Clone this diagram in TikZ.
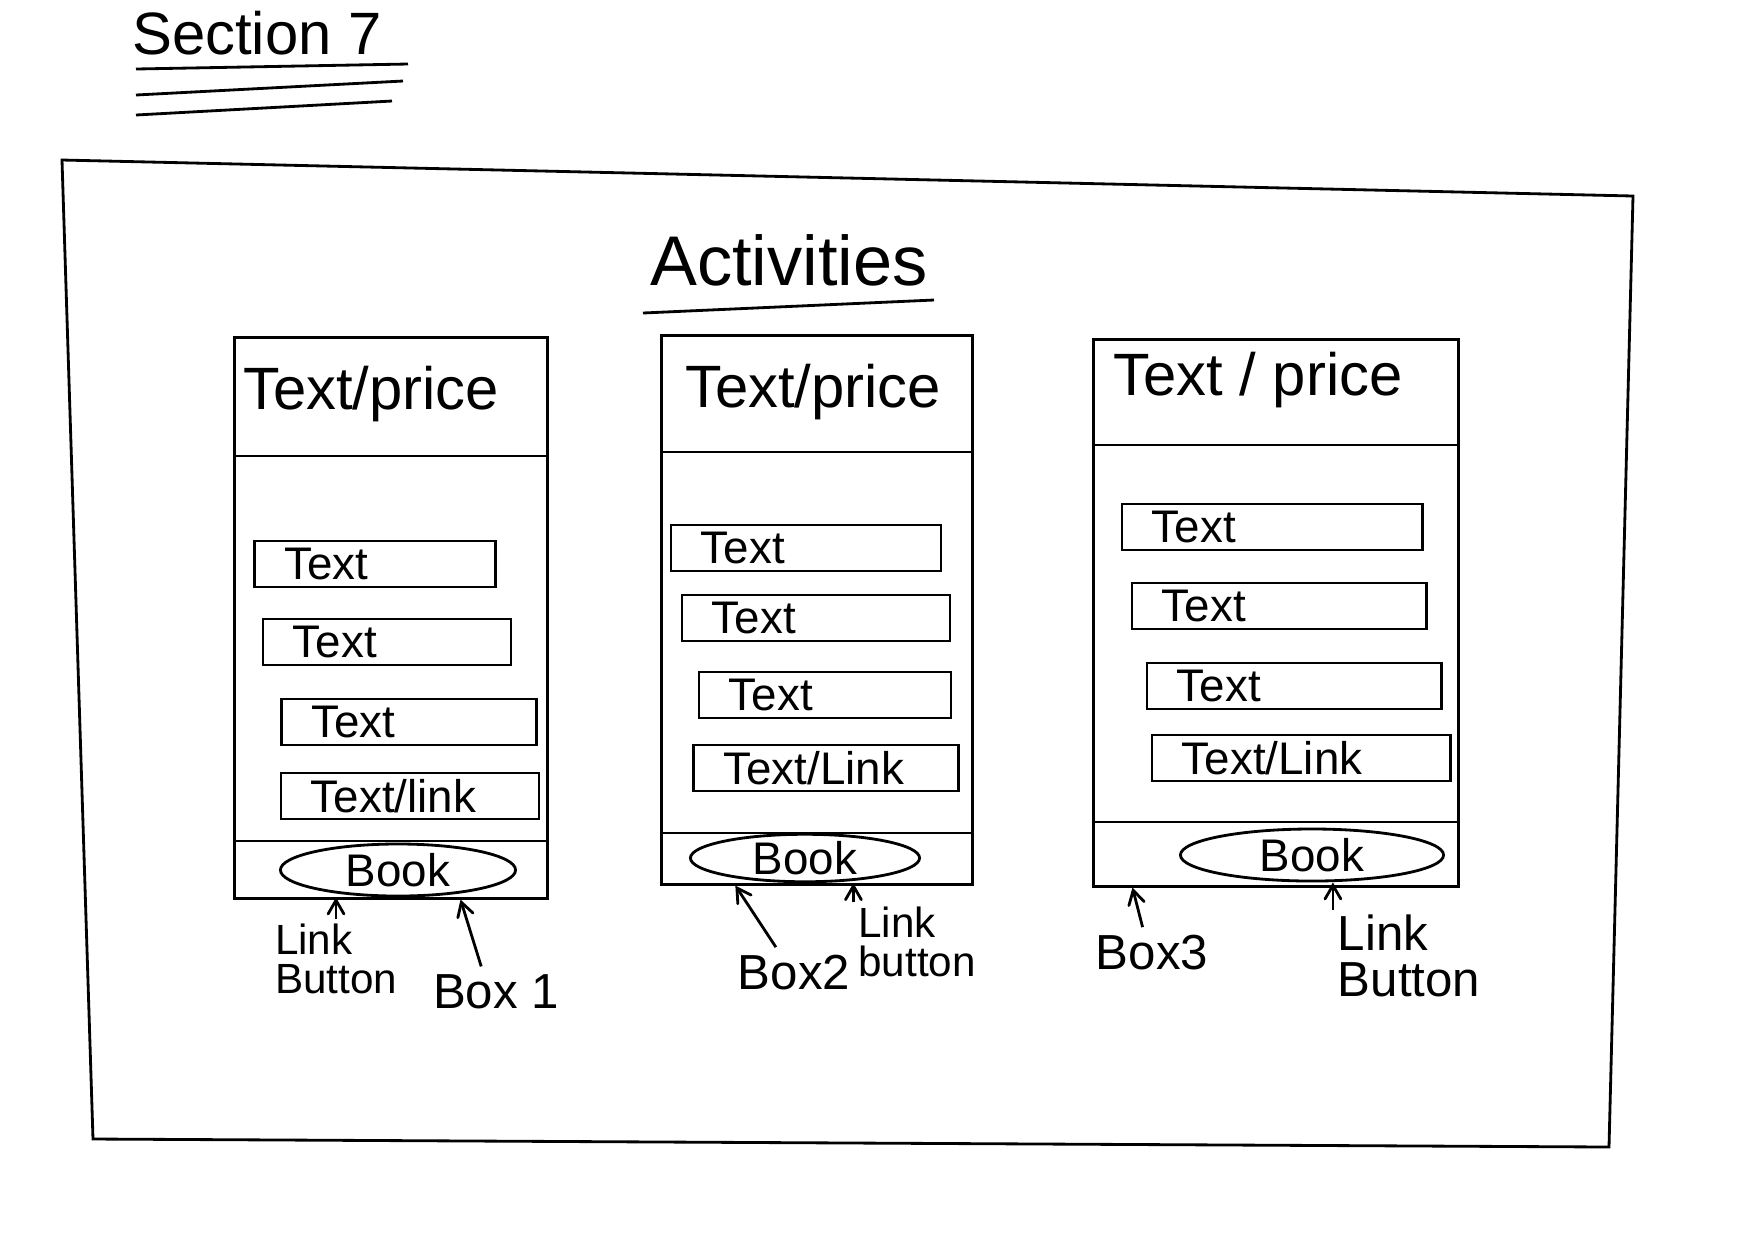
\documentclass[tikz,border=0pt]{standalone}
\usepackage{fontspec}
\setmainfont{Liberation Sans}
\usetikzlibrary{
  shapes.geometric,
  positioning,
  calc,
  arrows
}
\tikzset{
  >=angle 60,
  x=0.01cm, y=-0.01cm,
  card/.style={draw, rectangle, inner sep=0pt},
  field/.style={draw, rectangle, minimum height=0.46cm, inner xsep=0.3cm,
    inner ysep=0.05cm, text width=#1, align=left, font=\fontsize{13}{15}\selectfont},
  hdr/.style={font=\fontsize{17}{20}\selectfont},
  bookbtn/.style={draw, ellipse, inner sep=0pt, font=\fontsize{13}{15}\selectfont},
  note/.style={align=left, inner sep=1pt, font=\fontsize{12}{11}\selectfont},
  boxlbl/.style={inner sep=2pt, font=\fontsize{14}{16}\selectfont}
}
\begin{document}
\begin{tikzpicture}[line width=0.8pt]
  \useasboundingbox (0,0) rectangle (1754,1241);
  % heading
  \node[font=\fontsize{17}{20}\selectfont] (sect) at (257,33) {Section 7};
  \draw (136,69) -- (408,64);
  \draw (136,95) -- (403,81);
  \draw (136,115) -- (392,101);
  % page frame
  \draw (62,160) -- (1633,196) -- (1609,1147) -- (93,1139) -- cycle;
  \node[font=\fontsize{20}{24}\selectfont] (act) at (789,260) {Activities};
  \draw (643,313) -- (934,300);

  % box 1
  \node[card, minimum width=3.13cm, minimum height=5.6cm] (card1) at (391,618) {};
  \draw (card1.west |- 0,456) -- (card1.east |- 0,456);
  \draw (card1.west |- 0,841) -- (card1.east |- 0,841);
  \node[hdr] (price1) at (371,394) {Text/price};
  \node[field=1.81cm] (f11) at (375,564) {Text};
  \node[field=1.88cm] (f12) at (387,642) {Text};
  \node[field=1.95cm] (f13) at (409,722) {Text};
  \node[field=1.98cm] (f14) at (410,796) {Text/link};
  \node[bookbtn, minimum width=2.35cm, minimum height=0.52cm] (book1) at (398,870) {Book};

  % box 2
  \node[card, minimum width=3.11cm, minimum height=5.48cm] (card2) at (817,610) {};
  \draw (card2.west |- 0,452) -- (card2.east |- 0,452);
  \draw (card2.west |- 0,833) -- (card2.east |- 0,833);
  \node[hdr] (price2) at (813,392) {Text/price};
  \node[field=2.1cm] (f21) at (806,548) {Text};
  \node[field=2.08cm] (f22) at (816,618) {Text};
  \node[field=1.92cm] (f23) at (825,695) {Text};
  \node[field=2.05cm] (f24) at (826,768) {Text/Link};
  \node[bookbtn, minimum width=2.29cm, minimum height=0.46cm] (book2) at (805,858) {Book};

  % box 3
  \node[card, minimum width=3.65cm, minimum height=5.46cm] (card3) at (1276,613) {};
  \draw (card3.west |- 0,445) -- (card3.east |- 0,445);
  \draw (card3.west |- 0,822) -- (card3.east |- 0,822);
  \node[hdr] (price3) at (1258,380) {Text / price};
  \node[field=2.4cm] (f31) at (1272,527) {Text};
  \node[field=2.34cm] (f32) at (1279,606) {Text};
  \node[field=2.34cm] (f33) at (1294,686) {Text};
  \node[field=2.38cm] (f34) at (1301,758) {Text/Link};
  \node[bookbtn, minimum width=2.63cm, minimum height=0.52cm] (book3) at (1312,855) {Book};

  % notes
  \node[note] (link1) at (336,959) {Link\\Button};
  \node[boxlbl] (box1) at (496,992) {Box 1};
  \node[boxlbl] (box2) at (794,973) {Box2};
  \node[note] (link2) at (917,942) {Link\\button};
  \node[boxlbl] (box3) at (1152,953) {Box3};
  \node[note, font=\fontsize{14}{13}\selectfont] (link3) at (1409,956) {Link\\Button};

  \draw[->] (link1.north) -- (link1.north |- book1.south);
  \draw[->] (box1.120) -- ($(card1.south west)!0.72!(card1.south east)$);
  \draw[->] (box2.125) -- ($(card2.south west)!0.24!(card2.south east)$);
  \draw[->] (link2.north west) -- (link2.north west |- book2.south);
  \draw[->] (box3.110) -- ($(card3.south west)!0.11!(card3.south east)$);
  \draw[->] (link3.north west) -- (link3.north west |- book3.south);
\end{tikzpicture}
\end{document}
